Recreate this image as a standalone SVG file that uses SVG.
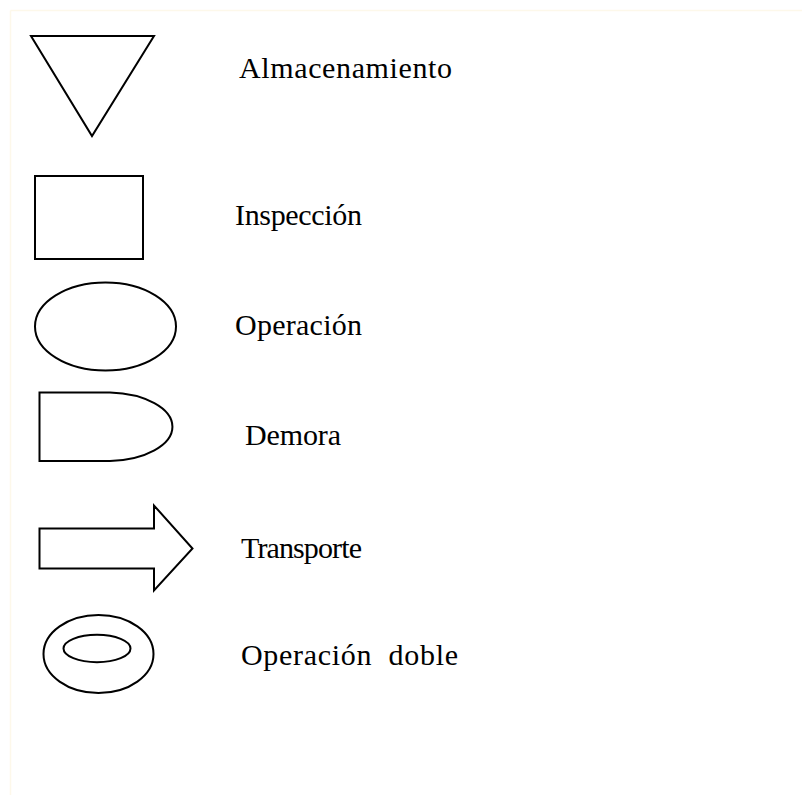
<svg xmlns="http://www.w3.org/2000/svg" width="802" height="795" viewBox="0 0 802 795">
<style>
.s{fill:#fff;stroke:#000;stroke-width:2;stroke-linejoin:miter}
text{font-family:'Liberation Serif','Times New Roman',serif;font-size:30px;fill:#000}
</style>
<rect width="802" height="795" fill="#fff"/>
<g id="border" stroke="#fdf8ea" stroke-width="1.5" fill="none">
<line x1="10.5" y1="10.5" x2="802" y2="10.5"/>
<line x1="10.5" y1="10.5" x2="10.5" y2="795"/>
</g>
<g id="almacenamiento">
<polygon class="s" points="31,36 154,36 92,136"/>
<text x="239" y="77.5" textLength="213">Almacenamiento</text>
</g>
<g id="inspeccion">
<rect class="s" x="35" y="176" width="108" height="83"/>
<text x="235" y="225" textLength="127">Inspección</text>
</g>
<g id="operacion">
<ellipse class="s" cx="105.5" cy="326.5" rx="70.5" ry="44"/>
<text x="235" y="335" textLength="127">Operación</text>
</g>
<g id="demora">
<path class="s" d="M39.5,392.5 H110 A66,34.3 0 0 1 110,461 H39.5 Z"/>
<text x="245" y="445" textLength="96">Demora</text>
</g>
<g id="transporte">
<polygon class="s" points="39.5,528.5 154,528.5 154,505.5 192.5,548.5 154,590.5 154,568.5 39.5,568.5"/>
<text x="241" y="558" textLength="121">Transporte</text>
</g>
<g id="operacion-doble">
<ellipse class="s" cx="98.5" cy="654" rx="55" ry="39"/>
<ellipse class="s" cx="97" cy="648.5" rx="33.5" ry="13.7"/>
<text x="241" y="665" textLength="217" xml:space="preserve">Operación  doble</text>
</g>
<g id="connectors"/>
</svg>
